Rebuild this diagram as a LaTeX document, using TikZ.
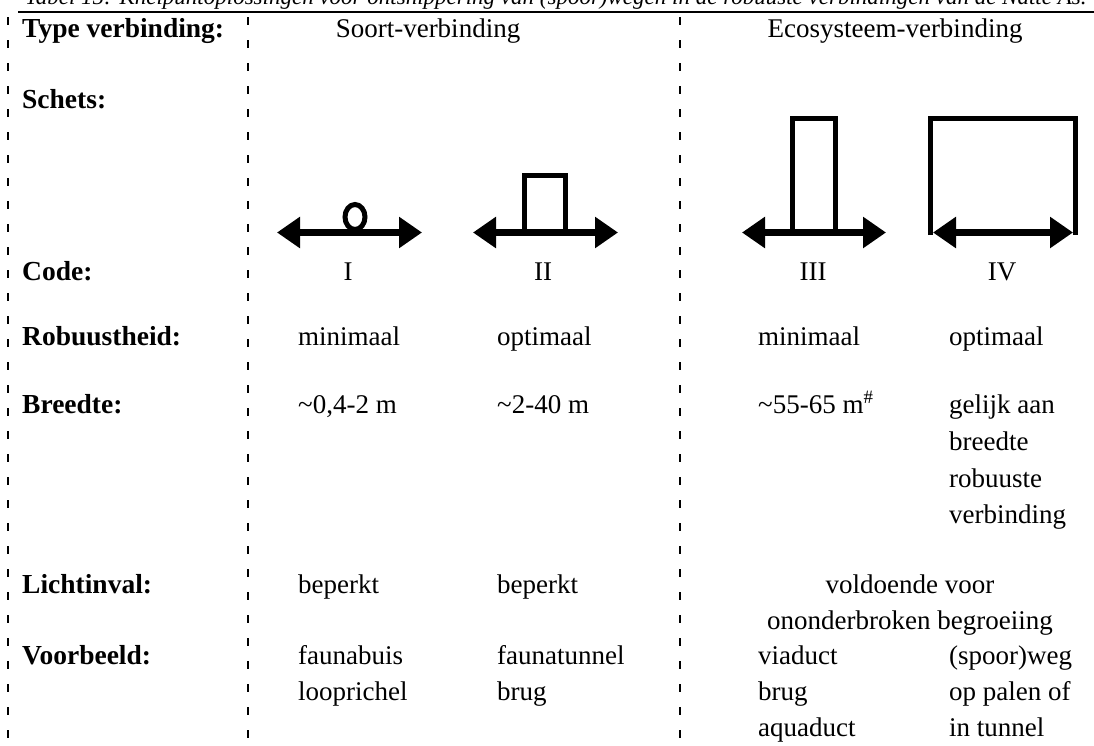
\documentclass[tikz,border=0pt]{standalone}
\usepackage{fontspec}
\setmainfont{Liberation Serif}
\usetikzlibrary{arrows.meta}
\begin{document}
\begin{tikzpicture}[x=1pt,y=-1pt,
  lbl/.style={anchor=base west,inner sep=0pt,font=\fontsize{27.5}{32}\selectfont\bfseries},
  txt/.style={anchor=base west,inner sep=0pt,font=\fontsize{27}{32}\selectfont},
  ctr/.style={anchor=base,inner sep=0pt,font=\fontsize{27}{32}\selectfont},
  captext/.style={anchor=base west,inner sep=0pt,font=\fontsize{23}{28}\selectfont\itshape},
  dashline/.style={line width=1.7pt,dash pattern=on 8pt off 15pt},
  toprule/.style={line width=2.5pt},
  shaft/.style={line width=7.5pt,{Triangle[length=23pt,width=30pt]}-{Triangle[length=23pt,width=30pt]}},
  sketch/.style={line width=5pt,line join=miter}]
\useasboundingbox (0,0) rectangle (1094,745);
% caption (cut off at top) and rule
\node[captext] (caption) at (25,4) {Tabel 15: Knelpuntoplossingen voor ontsnippering van (spoor)wegen in de robuuste verbindingen van de Natte As.};
\coordinate (ruleL) at (18,12);
\coordinate (ruleR) at (1094,12);
\draw[toprule] (ruleL) -- (ruleR);
% dashed column separators
\coordinate (d1t) at (8,17);   \coordinate (d1b) at (8,745);
\coordinate (d2t) at (248,17); \coordinate (d2b) at (248,745);
\coordinate (d3t) at (680,17); \coordinate (d3b) at (680,745);
\draw[dashline] (d1t) -- (d1b);
\draw[dashline] (d2t) -- (d2b);
\draw[dashline] (d3t) -- (d3b);
% row labels
\node[lbl] (lType) at (22,37) {Type verbinding:};
\node[lbl] (lSchets) at (22,108) {Schets:};
\node[lbl] (lCode) at (22,280) {Code:};
\node[lbl] (lRob) at (22,345) {Robuustheid:};
\node[lbl] (lBreed) at (22,413) {Breedte:};
\node[lbl] (lLicht) at (22,593) {Lichtinval:};
\node[lbl] (lVoor) at (22,664) {Voorbeeld:};
% headers
\node[ctr] (hSoort) at (428,37) {Soort-verbinding};
\node[ctr] (hEco) at (895,37) {Ecosysteem-verbinding};
% sketches
\coordinate (aIl) at (277,232.5); \coordinate (aIr) at (422,232.5);
\draw[shaft] (aIl) -- (aIr);
\draw[sketch] (355,217) ellipse [x radius=10, y radius=12.5];
\coordinate (aIIl) at (473,232.5); \coordinate (aIIr) at (618,232.5);
\draw[shaft] (aIIl) -- (aIIr);
\draw[sketch] (524.5,232) -- (524.5,175.5) -- (565.5,175.5) -- (565.5,232);
\coordinate (aIIIl) at (742,232.5); \coordinate (aIIIr) at (886,232.5);
\draw[shaft] (aIIIl) -- (aIIIr);
\draw[sketch] (792.5,232) -- (792.5,118.5) -- (835.5,118.5) -- (835.5,232);
\draw[sketch] (930.5,235) -- (930.5,118.5) -- (1075.5,118.5) -- (1075.5,235);
\coordinate (aIVl) at (933,232.5); \coordinate (aIVr) at (1073,232.5);
\draw[shaft] (aIVl) -- (aIVr);
% codes
\node[ctr] (cI) at (348,280) {I};
\node[ctr] (cII) at (543,280) {II};
\node[ctr] (cIII) at (813,280) {III};
\node[ctr] (cIV) at (1002,280) {IV};
% robuustheid
\node[txt] (r1) at (298,345) {minimaal};
\node[txt] (r2) at (497,345) {optimaal};
\node[txt] (r3) at (758,345) {minimaal};
\node[txt] (r4) at (949,345) {optimaal};
% breedte
\node[txt] (b1) at (298,413) {\textasciitilde0,4-2 m};
\node[txt] (b2) at (497,413) {\textasciitilde2-40 m};
\node[txt] (b3) at (758,413) {\textasciitilde55-65 m\textsuperscript{\#}};
\node[txt] (b4a) at (949,413) {gelijk aan};
\node[txt] (b4b) at (949,450) {breedte};
\node[txt] (b4c) at (949,487) {robuuste};
\node[txt] (b4d) at (949,523) {verbinding};
% lichtinval
\node[txt] (li1) at (298,593) {beperkt};
\node[txt] (li2) at (497,593) {beperkt};
\node[ctr] (li3a) at (910,593) {voldoende voor};
\node[ctr] (li3b) at (910,629) {ononderbroken begroeiing};
% voorbeeld
\node[txt] (v1a) at (298,664) {faunabuis};
\node[txt] (v1b) at (298,700) {looprichel};
\node[txt] (v2a) at (497,664) {faunatunnel};
\node[txt] (v2b) at (497,700) {brug};
\node[txt] (v3a) at (758,664) {viaduct};
\node[txt] (v3b) at (758,700) {brug};
\node[txt] (v3c) at (758,736) {aquaduct};
\node[txt] (v4a) at (949,664) {(spoor)weg};
\node[txt] (v4b) at (949,700) {op palen of};
\node[txt] (v4c) at (949,736) {in tunnel};
\end{tikzpicture}
\end{document}
